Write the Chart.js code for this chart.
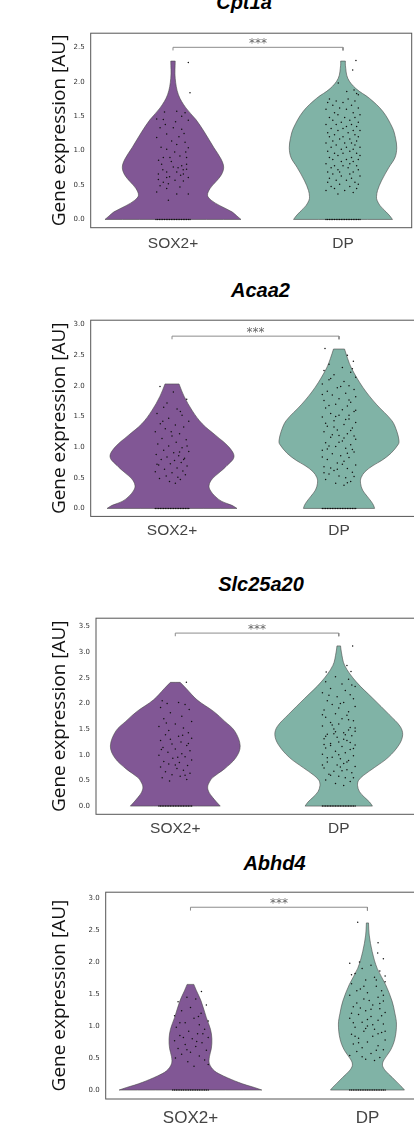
<!DOCTYPE html>
<html>
<head>
<meta charset="utf-8">
<script src="https://cdn.jsdelivr.net/npm/chart.js@4.4.7/dist/chart.umd.min.js"></script>
<style>
  html, body { margin: 0; padding: 0; background: #fff; overflow: hidden; }
  body { position: relative; width: 414px; height: 1135px; }
  canvas { position: absolute; left: 0; }
  .gene { position: absolute; width: 300px; text-align: center; font: italic bold 20px/24px "Liberation Sans", Arial, sans-serif; color: #000; }
</style>
</head>
<body>
<script>
const categories = ["SOX2+", "DP"]
const genes = ["Cpt1a", "Acaa2", "Slc25a20", "Abhd4"]
const yTicks = [
  [0, 0.5, 1, 1.5, 2, 2.5],
  [0, 0.5, 1, 1.5, 2, 2.5, 3],
  [0, 0.5, 1, 1.5, 2, 2.5, 3, 3.5],
  [0, 0.5, 1, 1.5, 2, 2.5, 3]
]
const bracketLevels = [2.5, 2.81, 3.37, 2.855]

// violin outlines: expression levels and half widths (category spacing = 1)
const cpt1aSoxLevels = [0, 0.05, 0.11, 0.2, 0.28, 0.35, 0.45, 0.55, 0.65, 0.76, 0.88, 1.04, 1.28, 1.45, 1.62, 1.81, 2.05, 2.3]
const cpt1aSoxWidths = [0.4, 0.376, 0.347, 0.276, 0.224, 0.203, 0.218, 0.253, 0.285, 0.298, 0.282, 0.241, 0.182, 0.135, 0.076, 0.032, 0.013, 0.013]
const cpt1aDpLevels = [0, 0.05, 0.11, 0.2, 0.28, 0.33, 0.42, 0.56, 0.76, 0.9, 1.04, 1.18, 1.33, 1.57, 1.76, 1.9, 2.05, 2.24, 2.3]
const cpt1aDpWidths = [0.291, 0.276, 0.253, 0.218, 0.2, 0.197, 0.203, 0.226, 0.271, 0.306, 0.316, 0.309, 0.291, 0.234, 0.155, 0.076, 0.028, 0.014, 0.014]

const acaa2SoxLevels = [0, 0.05, 0.113, 0.2, 0.3, 0.38, 0.48, 0.58, 0.68, 0.84, 1.0, 1.19, 1.38, 1.59, 1.83, 2.03]
const acaa2SoxWidths = [0.389, 0.359, 0.299, 0.257, 0.228, 0.222, 0.24, 0.281, 0.322, 0.371, 0.341, 0.262, 0.181, 0.122, 0.072, 0.042]
const acaa2DpLevels = [0, 0.05, 0.113, 0.2, 0.3, 0.41, 0.5, 0.6, 0.7, 0.785, 0.9, 1.05, 1.11, 1.25, 1.43, 1.7, 1.97, 2.29, 2.45, 2.6]
const acaa2DpWidths = [0.213, 0.207, 0.193, 0.168, 0.141, 0.129, 0.132, 0.156, 0.204, 0.257, 0.311, 0.356, 0.359, 0.347, 0.317, 0.223, 0.144, 0.074, 0.051, 0.033]

const slc25a20SoxLevels = [0, 0.08, 0.17, 0.27, 0.37, 0.47, 0.56, 0.72, 0.94, 1.17, 1.46, 1.65, 1.84, 2.07, 2.29, 2.41]
const slc25a20SoxWidths = [0.275, 0.252, 0.228, 0.206, 0.198, 0.209, 0.23, 0.299, 0.37, 0.397, 0.364, 0.303, 0.236, 0.133, 0.067, 0.03]
const slc25a20DpLevels = [0, 0.08, 0.17, 0.28, 0.4, 0.5, 0.6, 0.75, 0.95, 1.2, 1.39, 1.55, 1.78, 2.1, 2.42, 2.74, 3.0, 3.12]
const slc25a20DpWidths = [0.206, 0.188, 0.158, 0.127, 0.115, 0.121, 0.152, 0.218, 0.303, 0.37, 0.391, 0.376, 0.309, 0.208, 0.107, 0.036, 0.016, 0.011]

const abhd4SoxLevels = [0, 0.04, 0.077, 0.12, 0.165, 0.22, 0.3, 0.41, 0.52, 0.65, 0.8, 0.95, 1.13, 1.39, 1.55, 1.65]
const abhd4SoxWidths = [0.403, 0.361, 0.316, 0.271, 0.231, 0.186, 0.135, 0.107, 0.107, 0.118, 0.121, 0.113, 0.09, 0.06, 0.034, 0.019]
const abhd4DpLevels = [0, 0.04, 0.1, 0.2, 0.3, 0.386, 0.47, 0.62, 0.8, 1.03, 1.2, 1.39, 1.65, 1.9, 2.16, 2.42, 2.61]
const abhd4DpWidths = [0.209, 0.197, 0.175, 0.139, 0.102, 0.085, 0.093, 0.13, 0.155, 0.164, 0.155, 0.139, 0.102, 0.055, 0.027, 0.01, 0.006]

// cells at zero expression (jitter offsets)
const zeroJitter = [-0.1, -0.09, -0.08, -0.07, -0.06, -0.05, -0.04, -0.03, -0.02, -0.01, 0, 0.01, 0.02, 0.03, 0.04, 0.05, 0.06, 0.07, 0.08, 0.09, 0.1]

// expressing cells: [jitter, expression]
const cpt1aSoxDots = [[-0.096,1.46],[-0.057,1.45],[0.022,1.57],[0.071,1.55],[0.051,1.5],[0.09,1.44],[-0.076,1.33],[0.002,1.33],[0.051,1.31],[-0.037,1.24],[-0.008,1.14],[-0.096,1.19],[0.022,1.09],[0.071,1.12],[-0.037,1.02],[0.09,1.04],[-0.057,0.9],[-0.018,0.9],[0.041,0.92],[0.08,0.9],[-0.067,0.8],[0.002,0.76],[0.051,0.78],[0.08,0.73],[-0.086,0.66],[-0.037,0.69],[0.022,0.69],[0.061,0.66],[-0.057,0.54],[-0.027,0.52],[0.012,0.57],[0.061,0.56],[0.09,0.61],[-0.076,0.49],[-0.037,0.45],[0.041,0.47],[-0.096,0.4],[0.022,0.37],[0.09,0.37],[-0.027,0.28],[-0.086,0.58],[0.08,0.8],[-0.037,0.61],[0.03,0.75],[0.06,0.72],[-0.01,0.84],[-0.07,1.05],[0.035,1.2],[-0.045,1.38],[0.065,1.25],[-0.02,0.62],[0.045,0.64],[-0.06,0.72],[0.01,0.98],[0.075,0.98],[0.1,1.84],[0.09,2.28],[-0.05,1.56],[0.015,1.42],[-0.085,0.86]]
const cpt1aDpDots = [[0.076,2.31],[0.057,2.17],[-0.028,1.98],[0.022,1.86],[0.065,1.88],[0.08,1.83],[0.09,1.81],[-0.08,1.75],[0.03,1.75],[-0.04,1.72],[0.07,1.72],[0,1.7],[-0.09,1.7],[0.05,1.66],[-0.06,1.66],[0.09,1.62],[-0.02,1.62],[0.02,1.6],[-0.1,1.6],[-0.05,1.55],[0.06,1.55],[0.1,1.52],[-0.03,1.52],[-0.08,1.48],[0.01,1.48],[0.07,1.48],[0.04,1.44],[-0.06,1.44],[-0.01,1.41],[0.09,1.41],[-0.1,1.38],[0.05,1.38],[-0.04,1.38],[0.02,1.35],[0.08,1.35],[-0.07,1.32],[0,1.32],[0.06,1.29],[-0.03,1.29],[0.1,1.29],[-0.09,1.26],[0.03,1.26],[0.07,1.23],[-0.05,1.23],[0,1.2],[-0.08,1.2],[0.09,1.2],[0.04,1.17],[-0.02,1.17],[-0.06,1.14],[0.08,1.14],[0.01,1.11],[-0.1,1.11],[0.05,1.11],[-0.04,1.08],[0.07,1.08],[0.1,1.05],[-0.07,1.05],[0.02,1.05],[-0.01,1.02],[0.06,1.02],[-0.09,0.99],[0.04,0.99],[0.08,0.96],[-0.05,0.96],[0,0.96],[-0.03,0.93],[0.1,0.93],[0.05,0.9],[-0.08,0.9],[-0.06,0.87],[0.02,0.87],[0.09,0.87],[0.06,0.84],[-0.01,0.84],[-0.1,0.81],[0.04,0.81],[0,0.78],[0.08,0.78],[-0.05,0.78],[-0.07,0.75],[0.03,0.75],[0.09,0.72],[-0.03,0.72],[-0.02,0.69],[0.06,0.69],[-0.09,0.69],[0.04,0.66],[-0.06,0.66],[0.1,0.63],[-0.01,0.63],[-0.08,0.6],[0.05,0.6],[0.02,0.57],[-0.04,0.57],[0.07,0.54],[-0.09,0.54],[-0.02,0.51],[0.09,0.51],[0.04,0.48],[-0.07,0.48],[-0.05,0.45],[0.08,0.45],[0.01,0.42],[-0.1,0.42],[0.06,0.39],[-0.03,0.37]]

const acaa2SoxDots = [[-0.072,1.99],[0.008,1.9],[0.088,1.78],[-0.05,1.65],[0.03,1.62],[-0.09,1.55],[0.06,1.52],[-0.02,1.47],[0.1,1.42],[-0.07,1.38],[0.02,1.36],[0.07,1.33],[-0.04,1.3],[-0.1,1.25],[0.045,1.22],[0,1.18],[-0.06,1.14],[0.085,1.12],[0.025,1.08],[-0.085,1.05],[-0.02,1.02],[0.06,0.99],[-0.05,0.95],[0.1,0.93],[0.01,0.91],[-0.095,0.88],[0.04,0.86],[-0.03,0.84],[0.075,0.82],[-0.065,0.8],[0.015,0.78],[0.055,0.75],[-0.01,0.73],[-0.08,0.71],[0.09,0.69],[0.03,0.66],[-0.045,0.64],[0.065,0.61],[-0.1,0.6],[0,0.58],[0.08,0.55],[-0.035,0.53],[0.035,0.51],[-0.075,0.49],[0.05,0.47],[-0.015,0.44],[0.02,0.41],[-0.055,1.42],[0.05,1.58],[-0.03,1.72],[0.09,1.02],[-0.09,0.72],[0.045,0.92],[-0.005,1.25],[0.07,0.8]]
const acaa2DpDots = [[-0.084,2.61],[0.086,2.4],[0.05,2.5],[-0.06,2.35],[0.02,2.3],[-0.09,2.25],[0.07,2.22],[-0.03,2.18],[0.1,2.14],[-0.06,2.1],[0.03,2.07],[-0.1,2.03],[0.06,2],[-0.01,1.97],[0.09,1.94],[-0.07,1.91],[0.04,1.88],[-0.04,1.85],[0.1,1.82],[0,1.79],[-0.09,1.76],[0.07,1.73],[-0.02,1.7],[0.05,1.67],[-0.08,1.64],[0.02,1.61],[0.09,1.58],[-0.05,1.55],[0,1.52],[-0.1,1.49],[0.06,1.46],[-0.03,1.43],[0.1,1.4],[0.03,1.37],[-0.07,1.34],[0.08,1.31],[-0.01,1.28],[-0.09,1.25],[0.05,1.22],[0,1.19],[-0.05,1.16],[0.1,1.13],[0.02,1.1],[-0.08,1.07],[0.07,1.04],[-0.02,1.01],[0.04,0.98],[-0.1,0.95],[0.09,0.92],[-0.04,0.89],[0.01,0.86],[0.06,0.83],[-0.07,0.8],[0.03,0.77],[-0.01,0.74],[0.1,0.71],[-0.09,0.68],[0.05,0.65],[-0.03,0.62],[0.08,0.59],[-0.06,0.56],[0,0.53],[0.04,0.5],[-0.08,0.47],[0.07,0.44],[-0.02,0.41],[0.03,0.38],[0.08,2.28],[-0.05,2.12],[0.01,1.99],[-0.1,1.86],[0.06,1.77],[-0.06,1.68],[0.1,1.6],[-0.02,1.5],[0.04,1.45],[-0.08,1.39],[0.07,1.27],[-0.04,1.2],[0.09,1.18],[0,1.08],[-0.07,0.97],[0.05,0.9],[-0.1,0.84],[0.02,0.72],[-0.05,0.66],[0.09,0.52],[-0.09,0.58],[0.06,1.52],[-0.03,1.33],[0.03,1.15],[-0.06,1.02],[0.08,0.96],[-0.01,0.64],[0.05,0.42]]

const slc25a20SoxDots = [[0.068,2.41],[-0.08,2.05],[-0.05,2],[0.02,2.02],[0.06,1.98],[-0.09,1.92],[0.085,1.88],[-0.03,1.82],[0.04,1.75],[-0.07,1.7],[0.1,1.65],[0,1.6],[-0.1,1.55],[0.05,1.52],[-0.04,1.47],[0.08,1.43],[-0.06,1.39],[0.02,1.36],[0.1,1.32],[-0.09,1.28],[0.035,1.25],[-0.02,1.21],[0.07,1.18],[-0.075,1.14],[0,1.11],[0.09,1.08],[-0.045,1.05],[0.04,1.02],[-0.1,0.99],[0.06,0.96],[-0.015,0.93],[0.1,0.9],[-0.07,0.87],[0.025,0.85],[-0.04,0.82],[0.075,0.79],[-0.09,0.76],[0.01,0.73],[0.05,0.7],[-0.06,0.67],[0.09,0.64],[-0.02,0.61],[0.03,0.58],[-0.08,0.55],[0.07,0.52],[-0.035,0.49],[0.045,1.38],[-0.055,1.62],[0.015,0.95],[-0.085,1.1],[0.08,1.22],[0,0.8],[-0.03,1.3],[0.06,0.6]]
const slc25a20DpDots = [[0.085,3.12],[-0.077,2.61],[0.075,2.62],[0.05,2.74],[-0.02,2.52],[0.06,2.47],[-0.08,2.42],[0.02,2.38],[0.1,2.33],[-0.05,2.29],[0.04,2.25],[-0.1,2.21],[0.07,2.17],[-0.01,2.13],[0.09,2.09],[-0.07,2.05],[0.03,2.02],[-0.04,1.98],[0.1,1.94],[0,1.91],[-0.09,1.87],[0.06,1.84],[-0.02,1.8],[0.05,1.77],[-0.08,1.73],[0.02,1.7],[0.09,1.66],[-0.05,1.63],[0,1.6],[-0.1,1.56],[0.07,1.53],[-0.03,1.5],[0.1,1.46],[0.03,1.43],[-0.07,1.4],[0.08,1.37],[-0.01,1.34],[-0.09,1.31],[0.05,1.28],[0,1.25],[-0.05,1.22],[0.1,1.19],[0.02,1.16],[-0.08,1.13],[0.07,1.1],[-0.02,1.07],[0.04,1.04],[-0.1,1.01],[0.09,0.98],[-0.04,0.95],[0.01,0.92],[0.06,0.89],[-0.07,0.86],[0.03,0.83],[-0.01,0.8],[0.1,0.77],[-0.09,0.74],[0.05,0.71],[-0.03,0.68],[0.08,0.65],[-0.06,0.62],[0,0.58],[0.04,0.55],[-0.08,0.51],[0.07,0.48],[-0.02,0.44],[0.03,0.4],[0.08,2.36],[-0.06,2.16],[0.01,2],[-0.1,1.78],[0.06,1.68],[-0.04,1.58],[0.1,1.52],[-0.02,1.45],[0.04,1.39],[-0.08,1.36],[0.07,1.24],[-0.05,1.18],[0.09,1.12],[0,1],[-0.07,0.94],[0.05,0.86],[-0.1,0.8],[0.02,0.69],[-0.05,0.6],[0.09,0.55],[0.03,1.3],[-0.03,1.41],[0.06,1.48],[-0.09,1.2],[0.01,0.76]]

const abhd4SoxDots = [[0.062,1.54],[-0.02,1.45],[0.03,1.42],[-0.07,1.38],[0.09,1.33],[0,1.29],[-0.05,1.24],[0.06,1.2],[-0.09,1.16],[0.02,1.12],[0.1,1.08],[-0.03,1.05],[0.05,1.02],[-0.08,0.98],[0.08,0.95],[-0.01,0.92],[0.04,0.88],[-0.06,0.85],[0.1,0.82],[0.01,0.8],[-0.09,0.77],[0.065,0.74],[-0.03,0.71],[0.03,0.68],[-0.07,0.65],[0.09,0.62],[0,0.59],[-0.05,0.56],[0.05,0.53],[-0.085,0.5],[0.08,0.47],[-0.015,0.44],[0.1,0.4],[0.02,0.37],[-0.04,0.82],[0.045,1.15],[-0.06,1.05],[0.07,0.88],[-0.02,0.63],[0.035,0.76]]
const abhd4DpDots = [[-0.055,2.62],[0.06,2.3],[0.058,2.14],[-0.045,2],[-0.1,1.98],[0.09,2.05],[0.1,1.78],[-0.09,1.8],[0.02,1.95],[-0.03,1.9],[0.07,1.86],[-0.07,1.82],[0.04,1.76],[-0.01,1.72],[0.1,1.69],[-0.09,1.66],[0.05,1.62],[-0.04,1.58],[0.08,1.55],[0,1.52],[-0.1,1.48],[0.06,1.45],[-0.02,1.42],[0.09,1.39],[-0.06,1.36],[0.03,1.33],[-0.08,1.3],[0.07,1.27],[-0.01,1.24],[0.1,1.21],[-0.05,1.18],[0.02,1.15],[-0.1,1.12],[0.06,1.09],[-0.03,1.06],[0.09,1.03],[0,1],[-0.07,0.98],[0.04,0.95],[-0.02,0.92],[0.08,0.9],[-0.09,0.87],[0.03,0.84],[-0.05,0.81],[0.1,0.78],[0,0.75],[-0.08,0.72],[0.06,0.69],[-0.03,0.66],[0.09,0.63],[-0.06,0.6],[0.02,0.57],[-0.1,0.54],[0.07,0.51],[-0.01,0.48],[0.04,0.46],[0.05,1.72],[-0.06,1.55],[0.01,1.4],[-0.04,1.28],[0.08,1.16],[-0.08,1.05],[0.03,1.02],[-0.01,0.96],[0.06,0.88],[-0.05,0.74],[0.1,0.92],[0.02,1.26],[-0.09,1.2],[0.05,0.62],[-0.03,0.52],[0.07,1.35],[0,1.1],[-0.07,0.84],[0.09,1.48],[-0.02,1.62]]

const violins = [
  [[cpt1aSoxLevels, cpt1aSoxWidths, cpt1aSoxDots], [cpt1aDpLevels, cpt1aDpWidths, cpt1aDpDots]],
  [[acaa2SoxLevels, acaa2SoxWidths, acaa2SoxDots], [acaa2DpLevels, acaa2DpWidths, acaa2DpDots]],
  [[slc25a20SoxLevels, slc25a20SoxWidths, slc25a20SoxDots], [slc25a20DpLevels, slc25a20DpWidths, slc25a20DpDots]],
  [[abhd4SoxLevels, abhd4SoxWidths, abhd4SoxDots], [abhd4DpLevels, abhd4DpWidths, abhd4DpDots]]
]

// page layout of each panel (plot box in px) and axis ranges
const panels = [
  { box: [90.7, 31, 411.7, 227.7], y: [-0.12, 2.705], x: [-0.484, 1.404], title: [244, 2], labelSize: 15.5, labelPad: 7 },
  { box: [90.7, 318.3, 420, 516.7], y: [-0.13, 3.07], x: [-0.487, 1.485], title: [260.5, 289.5], labelSize: 15.5, labelPad: 5 },
  { box: [96, 615.7, 420, 814], y: [-0.16, 3.66], x: [-0.485, 1.497], title: [261, 583.7], labelSize: 15.5, labelPad: 5 },
  { box: [105.7, 890, 420, 1099], y: [-0.14, 3.09], x: [-0.479, 1.297], title: [274.5, 863], labelSize: 17, labelPad: 9 }
]

const colors = ["#815795", "#80b3a6"]
const PAD_LEFT = 48.6
const PAD_TOP = 8

function outline(levels, widths, center) {
  const right = levels.map((y, i) => ({ x: center + widths[i], y }))
  const left = levels.map((y, i) => ({ x: center - widths[i], y })).reverse()
  const n = right.length
  return [right[0], ...right, right[n - 1], left[0], ...left, left[n - 1], right[0], right[0]]
}

const frame = {
  id: "frame",
  afterDatasetsDraw(chart, args, opts) {
    const { ctx, chartArea: a, scales: { x, y } } = chart
    ctx.save()
    ctx.strokeStyle = "#555"
    ctx.lineWidth = 1
    ctx.strokeRect(a.left, a.top, a.right - a.left, a.bottom - a.top)
    ctx.fillStyle = "#666"
    ctx.font = '12px "DejaVu Sans"'
    ctx.textAlign = "center"
    ctx.textBaseline = "alphabetic"
    ctx.fillText("***", x.getPixelForValue(0.5), y.getPixelForValue(opts.level) - 0.5)
    ctx.restore()
  }
}

panels.forEach((p, i) => {
  const [left, top, right, bottom] = p.box
  const W = Math.ceil(right + 2)
  const H = Math.ceil(bottom - top + PAD_TOP + 34)
  const xAxisH = H - PAD_TOP - (bottom - top)

  const t = document.createElement("div")
  t.className = "gene"
  t.textContent = genes[i]
  t.style.left = (p.title[0] - 150) + "px"
  t.style.top = (p.title[1] - 12) + "px"

  const canvas = document.createElement("canvas")
  canvas.width = W
  canvas.height = H
  canvas.style.width = W + "px"
  canvas.style.height = H + "px"
  canvas.style.top = (top - PAD_TOP) + "px"
  document.body.appendChild(canvas)
  document.body.appendChild(t)

  const dotSets = violins[i].map((v, g) => ({
    data: v[2].concat(zeroJitter.map(j => [j, 0])).map(d => ({ x: g + d[0], y: d[1] })),
    backgroundColor: "#111",
    borderWidth: 0,
    pointRadius: 0.75,
    pointHoverRadius: 0.75
  }))
  const violinSets = violins[i].map((v, g) => ({
    data: outline(v[0], v[1], g),
    showLine: true,
    fill: "shape",
    backgroundColor: colors[g],
    borderColor: "#4a4a4a",
    borderWidth: 0.6,
    pointRadius: 0,
    tension: 0.35
  }))
  const lvl = bracketLevels[i]
  const drop = 0.045 * (p.y[1] - p.y[0]) / 2.8
  const bracket = {
    data: [{ x: 0, y: lvl - drop }, { x: 0, y: lvl }, { x: 1, y: lvl }, { x: 1, y: lvl - drop }],
    showLine: true,
    borderColor: "#8c8c8c",
    borderWidth: 1,
    pointRadius: 0
  }

  new Chart(canvas, {
    type: "scatter",
    data: { datasets: [...dotSets, bracket, ...violinSets] },
    options: {
      responsive: false,
      animation: false,
      devicePixelRatio: 1,
      events: [],
      layout: { padding: { left: PAD_LEFT, top: PAD_TOP, right: W - right, bottom: 0 } },
      plugins: {
        legend: { display: false },
        tooltip: { enabled: false },
        frame: { level: lvl }
      },
      scales: {
        x: {
          type: "linear",
          min: p.x[0],
          max: p.x[1],
          grid: { display: false, drawTicks: false },
          border: { display: false },
          afterBuildTicks: s => { s.ticks = [0, 1].map(v => ({ value: v })) },
          afterFit: s => { s.height = xAxisH },
          ticks: {
            callback: v => categories[v],
            font: { family: "Liberation Sans", size: p.labelSize },
            color: "#444",
            padding: p.labelPad,
            maxRotation: 0
          }
        },
        y: {
          min: p.y[0],
          max: p.y[1],
          grid: { display: false, drawTicks: false },
          border: { display: false },
          afterBuildTicks: s => { s.ticks = yTicks[i].map(v => ({ value: v })) },
          afterFit: s => { s.width = left - PAD_LEFT },
          ticks: {
            callback: v => v.toFixed(1),
            font: { family: "DejaVu Sans", size: 7 },
            color: "#333",
            padding: 6
          },
          title: {
            display: true,
            text: "Gene expression [AU]",
            font: { family: "Open Sans", size: 19 },
            color: "#111",
            padding: 0
          }
        }
      }
    },
    plugins: [frame]
  })
})
</script>
</body>
</html>
